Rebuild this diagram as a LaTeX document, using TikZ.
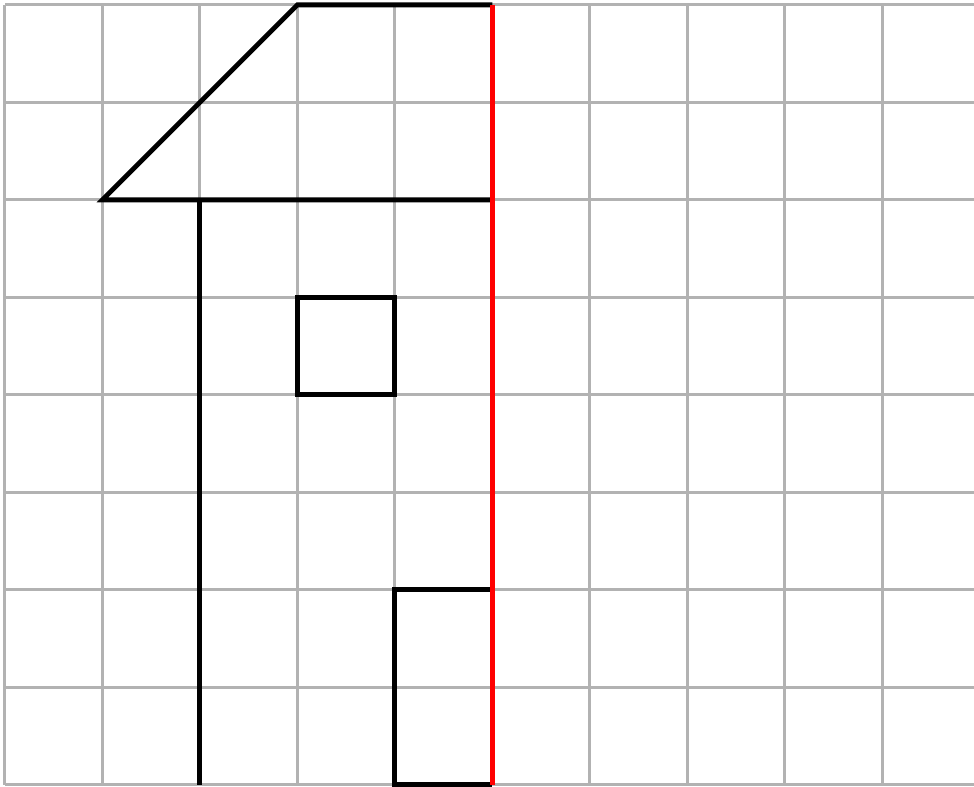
\documentclass[tikz,border=0pt]{standalone}
\usepackage{tikz}
\tikzset{
    gridline/.style={draw=black!30,line width=0.9pt},
    shapeline/.style={draw=black,line width=1.4pt,line join=miter},
    axisline/.style={draw=red,line width=1.4pt}
}

\begin{document}
\begin{tikzpicture}
  \useasboundingbox (-0.05,-0.02) rectangle (9.94,8.05);

  % 网格
  \draw[gridline] (0,0) grid[step=1] (9.99,8);

  \coordinate (A) at (1,6);
  \coordinate (B) at (3,8);
  \coordinate (C) at (5,8);
  \coordinate (D) at (5,6);
  \coordinate (E) at (2,6);
  \coordinate (F) at (2,0);

  % 屋顶
  \draw[shapeline] (C)--(B)--(A)--(D);

  % 墙
  \draw[shapeline] (E)--(F);

  % 窗
  \draw[shapeline] (3,4) rectangle (4,5);

  % 门
  \draw[shapeline] (5,2)--(4,2)--(4,0)--(5,0);

  % 对称轴
  \draw[axisline] (5,8)--(5,0);
\end{tikzpicture}
\end{document}
